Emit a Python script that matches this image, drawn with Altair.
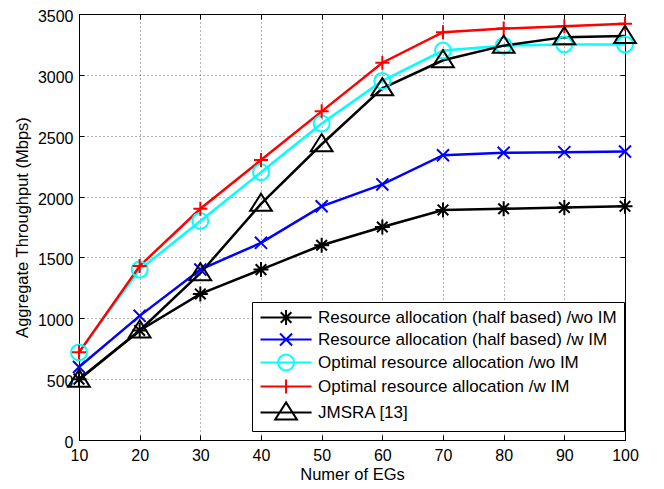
import altair as alt
import pandas as pd

# ---- data ----
num_egs = [10, 20, 30, 40, 50, 60, 70, 80, 90, 100]
series_names = [
    "Resource allocation (half based) /wo IM",
    "Resource allocation (half based) /w IM",
    "Optimal resource allocation /wo IM",
    "Optimal resource allocation /w IM",
    "JMSRA [13]",
]
half_wo_im = [500, 900, 1200, 1400, 1600, 1750, 1890, 1900, 1910, 1920]
half_w_im = [600, 1020, 1400, 1620, 1920, 2100, 2340, 2360, 2365, 2370]
opt_wo_im = [720, 1400, 1800, 2200, 2600, 2950, 3200, 3240, 3250, 3250]
opt_w_im = [720, 1430, 1900, 2300, 2700, 3100, 3350, 3380, 3400, 3420]
jmsra = [495, 900, 1370, 1940, 2430, 2890, 3120, 3240, 3310, 3320]
x_ticks = [10, 20, 30, 40, 50, 60, 70, 80, 90, 100]
y_ticks = [0, 500, 1000, 1500, 2000, 2500, 3000, 3500]

colors = ["#000000", "#0000ff", "#00ffff", "#ff0000", "#000000"]

all_vals = [half_wo_im, half_w_im, opt_wo_im, opt_w_im, jmsra]
rows = []
for i, (name, vals) in enumerate(zip(series_names, all_vals)):
    for xv, yv in zip(num_egs, vals):
        rows.append({"x": xv, "y": yv, "series": name, "order": i})
df = pd.DataFrame(rows)

# ---- marker shapes (unit = 7px at size 196) ----
def star(cx=0.0):
    a, d = 1.07, 0.76
    return (f"M{cx-a},0H{cx+a}M{cx},-{a}V{a}"
            f"M{cx-d},-{d}L{cx+d},{d}M{cx-d},{d}L{cx+d},-{d}")

def xcross(cx=0.0):
    a = 0.86
    return f"M{cx-a},-{a}L{cx+a},{a}M{cx-a},{a}L{cx+a},-{a}"

def circ(cx=0.0):
    r = 1.14
    return f"M{cx+r},0A{r},{r},0,1,1,{cx-r},0A{r},{r},0,1,1,{cx+r},0Z"

def plus(cx=0.0):
    a = 1.0
    return f"M{cx-a},0H{cx+a}M{cx},-{a}V{a}"

def tri(cx=0.0):
    return f"M{cx},-1.45L{cx+1.55},1.0L{cx-1.55},1.0Z"

makers = [star, xcross, circ, plus, tri]
marker_paths = [m() for m in makers]
LC = 2.65
legend_paths = [f"M-1,0H6.3" + m(LC) for m in makers]

W, H = 546, 426
FONT = "Liberation Sans"

xscale = alt.Scale(domain=[10, 100], nice=False, zero=False)
yscale = alt.Scale(domain=[0, 3500], nice=False, zero=False)
cscale = alt.Scale(domain=series_names, range=colors)

base = alt.Chart(df)

lines = base.mark_line(strokeWidth=2.5).encode(
    x=alt.X("x:Q", scale=xscale,
            axis=alt.Axis(values=x_ticks, title="Numer of EGs", grid=True, ticks=False,
                          domain=True, domainColor="black", labelPadding=7,
                          titlePadding=3, format="d", labelFlush=False)),
    y=alt.Y("y:Q", scale=yscale,
            axis=alt.Axis(values=y_ticks, title="Aggregate Throughput (Mbps)", grid=True,
                          ticks=False, domain=True, domainColor="black", labelPadding=6,
                          titlePadding=7, format="d", labelFlush=False, labelOffset=2.5)),
    color=alt.Color("series:N", scale=cscale, legend=None),
    order=alt.Order("order:Q"),
)

points = base.mark_point(filled=False, size=196, strokeWidth=2, opacity=1).encode(
    x=alt.X("x:Q", scale=xscale,
            axis=alt.Axis(orient="top", offset=-H, values=x_ticks, labels=False, title=None,
                          grid=False, domain=False, ticks=True, tickSize=5, tickColor="black")),
    y=alt.Y("y:Q", scale=yscale,
            axis=alt.Axis(orient="right", offset=-W, values=y_ticks, labels=False, title=None,
                          grid=False, domain=False, ticks=True, tickSize=5, tickColor="black")),
    color=alt.Color("series:N", scale=cscale, legend=None),
    shape=alt.Shape("series:N", scale=alt.Scale(domain=series_names, range=marker_paths),
                    legend=None),
)

legend_layer = base.transform_filter("datum.x > 1000").mark_point(
    filled=False, size=196, strokeWidth=2, opacity=1).encode(
    x=alt.X("x:Q", scale=xscale,
            axis=alt.Axis(orient="bottom", offset=-H, values=x_ticks, labels=False, title=None,
                          grid=False, domain=False, ticks=True, tickSize=5, tickColor="black")),
    y=alt.Y("y:Q", scale=yscale,
            axis=alt.Axis(orient="left", offset=-W, values=y_ticks, labels=False, title=None,
                          grid=False, domain=False, ticks=True, tickSize=5, tickColor="black")),
    color=alt.Color("series:N", scale=cscale,
                    legend=alt.Legend(title=None, orient="none", legendX=173, legendY=288)),
    shape=alt.Shape("series:N", scale=alt.Scale(domain=series_names, range=legend_paths),
                    legend=alt.Legend(title=None, orient="none", legendX=173, legendY=288)),
)

chart = alt.layer(lines, points, legend_layer).resolve_scale(
    shape="independent", color="independent"
).resolve_axis(
    x="independent", y="independent"
).properties(
    width=W, height=H, autosize="none",
    padding={"left": 71, "top": 6, "right": 31, "bottom": 46},
).configure_view(
    stroke="black", strokeWidth=1
).configure_axis(
    labelFont=FONT, titleFont=FONT, labelFontSize=16, titleFontSize=16.5,
    labelColor="black", titleColor="black", titleFontWeight="normal",
    gridColor="black", gridDash=[1, 3], gridOpacity=0.6, gridWidth=1,
).configure_legend(
    labelFont=FONT, labelFontSize=17, labelColor="black", labelLimit=400,
    strokeColor="black", fillColor="white", padding=7, cornerRadius=0,
    symbolStrokeWidth=2, symbolSize=196, rowPadding=0, labelOffset=42,
    symbolType="circle",
)

chart.save("out.html", embed_options={"renderer": "svg", "actions": False})
